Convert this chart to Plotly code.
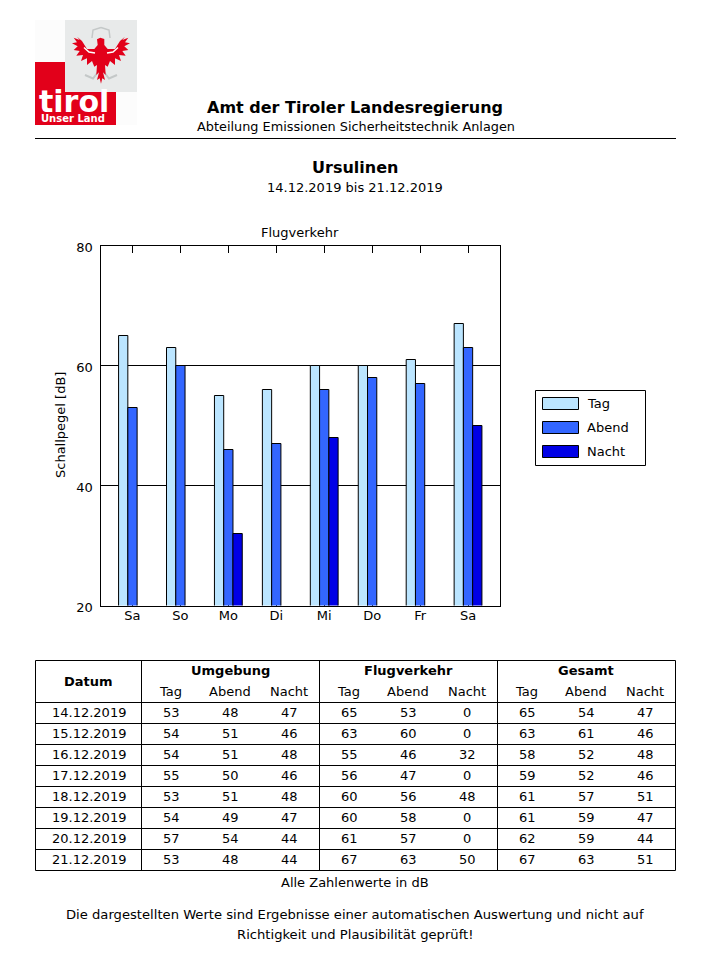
import plotly.graph_objects as go

W, H = 710, 980
FONT = "DejaVu Sans"

# ---------- data ----------
dates = ["14.12.2019", "15.12.2019", "16.12.2019", "17.12.2019",
         "18.12.2019", "19.12.2019", "20.12.2019", "21.12.2019"]
weekdays = ["Sa", "So", "Mo", "Di", "Mi", "Do", "Fr", "Sa"]
series_names = ["Tag", "Abend", "Nacht"]
series_colors = ["#BBE5FF", "#3366FF", "#0000E6"]
groups = ["Umgebung", "Flugverkehr", "Gesamt"]

umg_tag = [53, 54, 54, 55, 53, 54, 57, 53]
umg_abend = [48, 51, 51, 50, 51, 49, 54, 48]
umg_nacht = [47, 46, 48, 46, 48, 47, 44, 44]
flug_tag = [65, 63, 55, 56, 60, 60, 61, 67]
flug_abend = [53, 60, 46, 47, 56, 58, 57, 63]
flug_nacht = [0, 0, 32, 0, 48, 0, 0, 50]
ges_tag = [65, 63, 58, 59, 61, 61, 62, 67]
ges_abend = [54, 61, 52, 52, 57, 59, 59, 63]
ges_nacht = [47, 46, 48, 46, 51, 47, 44, 51]


def px(x):
    return x / W


def py(y):
    return 1 - y / H


annotations, shapes = [], []


def text(x, y, s, size=13, bold=False, anchor="center", color="#000000", angle=0):
    annotations.append(dict(
        x=px(x), y=py(y), xref="paper", yref="paper", text=f"<b>{s}</b>" if bold else s,
        showarrow=False, xanchor=anchor, yanchor="middle", textangle=angle,
        font=dict(family=FONT, size=size, color=color), borderpad=0, borderwidth=0))


def line(x0, y0, x1, y1, width=1, color="#000000"):
    shapes.append(dict(type="line", xref="paper", yref="paper", x0=px(x0), y0=py(y0),
                       x1=px(x1), y1=py(y1), line=dict(color=color, width=width)))


def rect(x0, y0, x1, y1, fill, border=None, width=1):
    shapes.append(dict(type="rect", xref="paper", yref="paper", x0=px(x0), y0=py(y0),
                       x1=px(x1), y1=py(y1), fillcolor=fill,
                       line=dict(color=border or fill, width=width if border else 0)))


def path(points, fill=None, stroke=None, width=1, close=True):
    d = "M" + " L".join(f"{px(a):.5f},{py(b):.5f}" for a, b in points) + (" Z" if close else "")
    shapes.append(dict(type="path", xref="paper", yref="paper", path=d,
                       fillcolor=fill or "rgba(0,0,0,0)",
                       line=dict(color=stroke or "rgba(0,0,0,0)", width=width)))


# ---------- logo ----------
rect(35, 20, 65, 62, "#FCFCFC")
rect(116, 92, 137, 125, "#FCFCFC")
rect(65, 20, 137, 92, "#E8EAEA")
rect(35, 62, 65, 125, "#E2001A")
rect(65, 92, 116, 125, "#E2001A")

eagle_cx = 101
half = [(3.3, 45), (6.7, 49), (14, 49), (19, 41), (24, 36.7), (21.3, 40), (27.3, 37.7), (24, 42.3),
        (29, 43.3), (23.3, 46.3), (27.3, 50), (21.3, 51), (24.7, 55.7), (18, 55), (20, 61), (14, 58.3),
        (14, 65), (9, 61), (6.7, 66.7), (4, 65), (4.7, 75), (2, 72.3), (4, 80), (1.3, 78.3), (0, 83.7)]
wreath = [(9, 38), (8, 30), (0, 27.5)]
claw = [(16, 75), (8, 78.5), (3, 72)]
for side in (1, -1):
    path([(eagle_cx + side * a, b) for a, b in wreath], stroke="#C4C8C8", width=1.5, close=False)
    path([(eagle_cx + side * a, b) for a, b in claw], stroke="#C4C8C8", width=2, close=False)
eagle = [(eagle_cx - 4, 39.3), (eagle_cx - 0.7, 37.7), (eagle_cx + 3.3, 39)]
eagle += [(eagle_cx + a, b) for a, b in half]
eagle += [(eagle_cx - a, b) for a, b in reversed(half[:-1])]
path(eagle, fill="#E2001A")
for side in (1, -1):
    path([(eagle_cx + side * a, b) for a, b in [(6, 53), (12, 52), (17, 47.5)]],
         stroke="#FFFFFF", width=1.5, close=False)

text(39, 101, "tirol", size=30, bold=True, anchor="left", color="#FFFFFF")
text(41, 118.5, "Unser Land", size=10, bold=True, anchor="left", color="#FFFFFF")

# ---------- headings ----------
text(355, 107.5, "Amt der Tiroler Landesregierung", size=16, bold=True)
text(355.5, 126.5, "Abteilung Emissionen Sicherheitstechnik Anlagen", size=12.85)
line(35, 138.5, 676, 138.5)
text(355, 167.5, "Ursulinen", size=16, bold=True)
text(355, 188, "14.12.2019 bis 21.12.2019")
text(300, 232.5, "Flugverkehr")

# ---------- legend ----------
rect(535.5, 390.5, 645.5, 465.5, "#FFFFFF", "#000000")
for i, (name, color) in enumerate(zip(series_names, series_colors)):
    top = 397.5 + 24 * i
    rect(542.5, top, 578.5, top + 12, color, "#000000")
    text(587, top + 6, name, anchor="left")

# ---------- table ----------
columns = [umg_tag, umg_abend, umg_nacht, flug_tag, flug_abend, flug_nacht, ges_tag, ges_abend, ges_nacht]
col_x = [171, 230, 289, 349, 408, 467, 527, 586, 645]
head_x = [170.5, 230, 289, 348.5, 408, 467, 526.5, 586, 645]
v_lines = [35.5, 141.5, 319.5, 497.5, 675.5]
top_y, head_y, row_h = 660.5, 702.5, 21
bottom_y = head_y + row_h * len(dates)
for x in v_lines:
    line(x, top_y, x, bottom_y)
line(35.5, top_y, 675.5, top_y)
for i in range(len(dates) + 1):
    line(35.5, head_y + row_h * i, 675.5, head_y + row_h * i)
text(88.5, 681, "Datum", size=13, bold=True)
for g, name in enumerate(groups):
    text(col_x[3 * g + 1], 670.5, name, size=13, bold=True)
    for s, sname in enumerate(series_names):
        text(head_x[3 * g + s], 691.5, sname)
for r, d in enumerate(dates):
    yc = head_y + row_h * r + 10
    text(88.5, yc, d)
    for c, values in enumerate(columns):
        text(col_x[c], yc, str(values[r]))

text(355, 882, "Alle Zahlenwerte in dB")
text(354.5, 914, "Die dargestellten Werte sind Ergebnisse einer automatischen Auswertung und nicht auf", size=13.15)
text(354.5, 934, "Richtigkeit und Plausibilität geprüft!", size=13.15)
text(60, 425, "Schallpegel [dB]", angle=-90)

# ---------- chart ----------
positions = list(range(len(weekdays)))
fig = go.Figure()
for name, color, values in zip(series_names, series_colors, [flug_tag, flug_abend, flug_nacht]):
    fig.add_bar(x=positions, y=values, name=name, marker=dict(color=color, line=dict(color="#000000", width=1)))

fig.update_layout(
    width=W, height=H, margin=dict(l=0, r=0, t=0, b=0, pad=0, autoexpand=False),
    paper_bgcolor="#FFFFFF", plot_bgcolor="#FFFFFF", showlegend=False,
    barmode="group", bargap=0.42, bargroupgap=0,
    font=dict(family=FONT, size=13, color="#000000"),
    annotations=annotations, shapes=shapes,
    xaxis=dict(domain=[px(100.5), px(500)], range=[-0.667, 7.667], tickmode="array",
               tickvals=positions, ticktext=weekdays, ticks="inside", ticklen=7, tickcolor="#000000",
               showline=True, linecolor="#000000", linewidth=1, mirror="ticks", showgrid=False,
               zeroline=False, layer="below traces", tickfont=dict(size=13), ticklabelstandoff=-2),
    yaxis=dict(domain=[py(605.5), py(245.5)], range=[20, 80], tickmode="array", tickvals=[20, 40, 60, 80],
               ticks="", showline=True, linecolor="#000000", linewidth=1, mirror=True, showgrid=True,
               gridcolor="#000000", gridwidth=1, zeroline=False, layer="below traces",
               tickfont=dict(size=13), ticklabelstandoff=4, ticklabelshift=2),
)
fig.write_html("out.html", config={"displayModeBar": False},
               post_script="document.body.style.margin='0';")
